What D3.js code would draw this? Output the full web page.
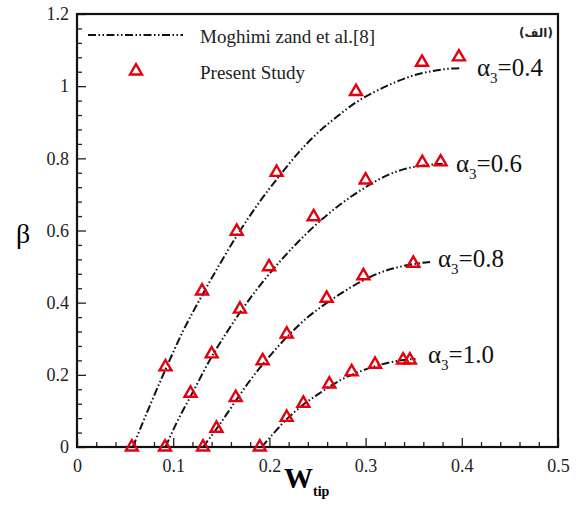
<!DOCTYPE html>
<html>
<head>
<meta charset="utf-8">
<script src="https://cdn.jsdelivr.net/npm/d3@7"></script>
<style>
  body { margin: 0; background: #fff; }
  svg text { font-family: "Liberation Serif", "Times New Roman", serif; }
</style>
</head>
<body>
<div id="chart"></div>
<script>
// --- data ---
const xTicks = [0, 0.1, 0.2, 0.3, 0.4, 0.5];
const yTicks = [0, 0.2, 0.4, 0.6, 0.8, 1, 1.2];
const alphaLabels = ["0.4", "0.6", "0.8", "1.0"];

// Moghimi zand et al. curves [W_tip, beta]
const ref04 = [[0.058,0],[0.075,0.11],[0.092,0.215],[0.11,0.32],[0.13,0.42],[0.148,0.505],[0.166,0.585],[0.19,0.68],[0.21,0.75],[0.23,0.815],[0.25,0.87],[0.27,0.915],[0.29,0.955],[0.31,0.985],[0.33,1.01],[0.35,1.03],[0.37,1.042],[0.385,1.048],[0.40,1.05]];
const ref06 = [[0.092,0],[0.105,0.075],[0.118,0.14],[0.14,0.25],[0.155,0.315],[0.17,0.375],[0.185,0.43],[0.20,0.48],[0.225,0.555],[0.25,0.62],[0.275,0.675],[0.30,0.72],[0.32,0.75],[0.34,0.77],[0.36,0.78],[0.38,0.785]];
const ref08 = [[0.131,0],[0.145,0.05],[0.165,0.128],[0.18,0.185],[0.195,0.235],[0.22,0.31],[0.24,0.36],[0.26,0.40],[0.28,0.435],[0.30,0.465],[0.32,0.488],[0.34,0.502],[0.355,0.509],[0.367,0.513]];
const ref10 = [[0.192,0],[0.205,0.04],[0.218,0.077],[0.235,0.117],[0.25,0.145],[0.26,0.163],[0.275,0.187],[0.29,0.205],[0.31,0.224],[0.33,0.237],[0.345,0.243],[0.352,0.244]];

// Present Study markers [W_tip, beta]
const pts04 = [[0.057,0],[0.092,0.222],[0.130,0.432],[0.166,0.598],[0.2075,0.761],[0.290,0.985],[0.3586,1.066],[0.397,1.081]];
const pts06 = [[0.0915,0],[0.118,0.149],[0.140,0.258],[0.1694,0.382],[0.1996,0.4995],[0.246,0.638],[0.300,0.740],[0.359,0.788],[0.378,0.790]];
const pts08 = [[0.131,0],[0.145,0.052],[0.165,0.137],[0.193,0.239],[0.218,0.313],[0.2595,0.412],[0.2977,0.4746],[0.3496,0.509]];
const pts10 = [[0.190,0],[0.218,0.082],[0.2353,0.121],[0.2623,0.1745],[0.2855,0.2086],[0.3098,0.229],[0.339,0.241],[0.346,0.241]];

const refs = [ref04, ref06, ref08, ref10];
const markers = [pts04, pts06, pts08, pts10];

const serif = "'Liberation Serif', 'Times New Roman', serif";

// --- sizing ---
const margin = { top: 14, right: 18, bottom: 58, left: 77 },
      width  = 576 - margin.left - margin.right,
      height = 505 - margin.top  - margin.bottom;

const svg = d3.select("#chart")
  .append("svg")
  .attr("width", 576)
  .attr("height", 505)
  .append("g")
  .attr("transform", `translate(${margin.left},${margin.top})`);

const x = d3.scaleLinear().domain([0, 0.5]).range([0, width]);
const y = d3.scaleLinear().domain([0, 1.2]).range([height, 0]);

// minor ticks (inside)
const xMinor = d3.range(0, 0.5001, 0.02).filter(v => Math.abs(v * 10 - Math.round(v * 10)) > 1e-6);
const yMinor = d3.range(0, 1.2001, 0.04).filter(v => Math.abs(v * 5 - Math.round(v * 5)) > 1e-6);

svg.append("g")
  .attr("transform", `translate(0,${height})`)
  .call(d3.axisBottom(x).tickValues(xMinor).tickSize(-5).tickFormat(""))
  .call(g => g.select(".domain").remove());

svg.append("g")
  .call(d3.axisLeft(y).tickValues(yMinor).tickSize(-5).tickFormat(""))
  .call(g => g.select(".domain").remove());

// major ticks
svg.append("g")
  .attr("transform", `translate(0,${height})`)
  .call(d3.axisBottom(x).tickValues(xTicks).tickSize(-9).tickPadding(12).tickFormat(d => d === 0 ? "0" : d3.format(".1f")(d)))
  .call(g => g.select(".domain").remove())
  .attr("font-family", serif);

svg.append("g")
  .call(d3.axisLeft(y).tickValues(yTicks).tickSize(-9).tickPadding(8).tickFormat(d => d === 0 || d === 1 ? String(d) : d3.format(".1f")(d)))
  .call(g => g.select(".domain").remove())
  .attr("font-family", serif);

svg.selectAll(".tick line").attr("stroke", "#222").attr("stroke-width", 1.3);
svg.selectAll(".tick text")
  .style("font-family", serif)
  .style("font-size", "18px")
  .attr("fill", "#222");

// frame
svg.append("rect")
  .attr("width", width)
  .attr("height", height)
  .attr("fill", "none")
  .attr("stroke", "#111")
  .attr("stroke-width", 2.2);

// axis titles
svg.append("text")
  .attr("x", 23 - margin.left)
  .attr("y", 243 - margin.top)
  .attr("text-anchor", "middle")
  .style("font-family", serif)
  .style("font-size", "28px")
  .text("β");

const xt = svg.append("text")
  .attr("x", 284 - margin.left)
  .attr("y", 488 - margin.top)
  .style("font-family", serif)
  .style("font-size", "29px")
  .style("font-weight", "bold");
xt.append("tspan").text("W");
xt.append("tspan").attr("dy", 8).style("font-size", "14px").text("tip");

// reference curves
const line = d3.line()
  .curve(d3.curveMonotoneX)
  .x(d => x(d[0]))
  .y(d => y(d[1]));

const dash = "8,2.5,1.5,2.5,1.5,2.5";

svg.selectAll(".ref")
  .data(refs)
  .enter()
  .append("path")
  .attr("class", "ref")
  .attr("fill", "none")
  .attr("stroke", "#111")
  .attr("stroke-width", 2)
  .attr("stroke-dasharray", dash)
  .attr("d", d => line(d));

// markers
const tri = d3.symbol().type(d3.symbolTriangle).size(62);
svg.selectAll(".series")
  .data(markers)
  .enter()
  .append("g")
  .attr("class", "series")
  .selectAll("path")
  .data(d => d)
  .enter()
  .append("path")
  .attr("d", tri)
  .attr("transform", d => `translate(${x(d[0])},${y(d[1])})`)
  .attr("fill", "none")
  .attr("stroke", "#e3000f")
  .attr("stroke-width", 2.4);

// alpha labels
const labelPos = [[477, 76], [456, 172], [438, 267], [428, 363]];
alphaLabels.forEach((lab, i) => {
  const t = svg.append("text")
    .attr("x", labelPos[i][0] - margin.left)
    .attr("y", labelPos[i][1] - margin.top)
    .style("font-family", serif)
    .style("font-size", "25px")
    .attr("fill", "#111");
  t.append("tspan").text("α");
  t.append("tspan").attr("dy", 7).style("font-size", "15px").text("3");
  t.append("tspan").attr("dy", -7).text("=" + lab);
});

// legend
svg.append("line")
  .attr("x1", 88 - margin.left).attr("x2", 183 - margin.left)
  .attr("y1", 35 - margin.top).attr("y2", 35 - margin.top)
  .attr("stroke", "#111")
  .attr("stroke-width", 2)
  .attr("stroke-dasharray", dash);

svg.append("path")
  .attr("d", tri)
  .attr("transform", `translate(${136 - margin.left},${71 - margin.top})`)
  .attr("fill", "none")
  .attr("stroke", "#e3000f")
  .attr("stroke-width", 2.4);

svg.append("text")
  .attr("x", 200 - margin.left).attr("y", 43 - margin.top)
  .style("font-family", serif)
  .style("font-size", "19px")
  .attr("fill", "#222")
  .text("Moghimi zand et al.[8]");

svg.append("text")
  .attr("x", 200 - margin.left).attr("y", 79 - margin.top)
  .style("font-family", serif)
  .style("font-size", "19px")
  .attr("fill", "#222")
  .text("Present Study");

// panel tag
svg.append("text")
  .attr("x", 536 - margin.left).attr("y", 37 - margin.top)
  .attr("text-anchor", "middle")
  .style("font-family", "'DejaVu Sans', sans-serif")
  .style("font-size", "12px")
  .style("font-weight", "bold")
  .attr("fill", "#222")
  .text("(الف)");
</script>
</body>
</html>
